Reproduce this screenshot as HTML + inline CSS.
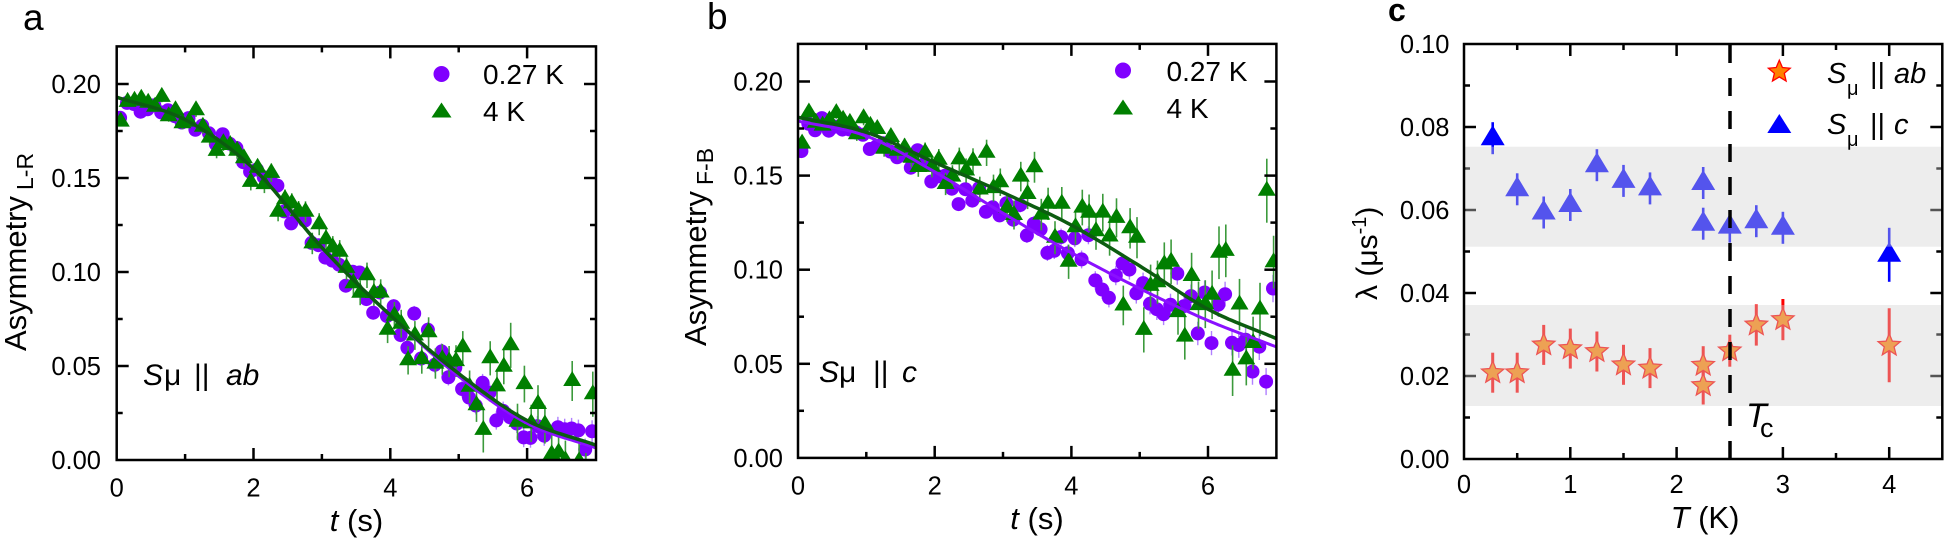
<!DOCTYPE html>
<html><head><meta charset="utf-8"><style>
html,body{margin:0;padding:0;background:#fff;}
svg{display:block;font-family:"Liberation Sans",Arial,sans-serif;}
</style></head><body>
<svg id="s" width="1944" height="539" viewBox="0 0 1944 539" xmlns="http://www.w3.org/2000/svg">
<defs>
<clipPath id="ca"><rect x="116.7" y="46.4" width="479.3" height="413.6"/></clipPath>
<clipPath id="cb"><rect x="798" y="43.9" width="478.4" height="414"/></clipPath>
</defs>
<rect width="1944" height="539" fill="#fff"/>
<g id="da" clip-path="url(#ca)"></g>
<g id="db" clip-path="url(#cb)"></g>
<g id="tk" stroke="#000" stroke-width="2.5"></g>
<g id="dc"></g>
<!-- bands panel c -->
<rect x="1465.3" y="146.7" width="476" height="100" fill="rgb(210,210,210)" fill-opacity="0.4"/>
<rect x="1465.3" y="305" width="476" height="101" fill="rgb(210,210,210)" fill-opacity="0.4"/>
<line x1="1730" y1="45" x2="1730" y2="459" stroke="#000" stroke-width="3.5" stroke-dasharray="18 15"/>
<!-- frames -->
<rect x="116.7" y="46.4" width="479.3" height="413.6" fill="none" stroke="#000" stroke-width="2.5"/>
<rect x="798" y="43.9" width="478.4" height="414" fill="none" stroke="#000" stroke-width="2.5"/>
<rect x="1464" y="44" width="478.3" height="415" fill="none" stroke="#000" stroke-width="2.5"/>

<!-- panel labels -->
<text x="23" y="30" font-size="37">a</text>
<text x="707" y="29" font-size="37">b</text>
<text x="1388" y="21" font-size="32" font-weight="bold">c</text>

<!-- tick labels -->
<g font-size="25.5" text-anchor="end">
<text x="101" y="93">0.20</text><text x="101" y="187">0.15</text><text x="101" y="281">0.10</text><text x="101" y="375">0.05</text><text x="101" y="469">0.00</text>
<text x="783" y="90.5">0.20</text><text x="783" y="184.6">0.15</text><text x="783" y="278.7">0.10</text><text x="783" y="372.8">0.05</text><text x="783" y="466.9">0.00</text>
<text x="1449.5" y="53">0.10</text><text x="1449.5" y="136">0.08</text><text x="1449.5" y="219">0.06</text><text x="1449.5" y="302">0.04</text><text x="1449.5" y="385">0.02</text><text x="1449.5" y="468">0.00</text>
</g>
<g font-size="25.5" text-anchor="middle">
<text x="116.7" y="496.5">0</text><text x="253.5" y="496.5">2</text><text x="390.3" y="496.5">4</text><text x="527.1" y="496.5">6</text>
<text x="798" y="494.5">0</text><text x="934.7" y="494.5">2</text><text x="1071.4" y="494.5">4</text><text x="1208" y="494.5">6</text>
<text x="1464" y="493">0</text><text x="1570.3" y="493">1</text><text x="1676.6" y="493">2</text><text x="1782.9" y="493">3</text><text x="1889.2" y="493">4</text>
</g>

<!-- axis titles -->
<text x="356.5" y="531" font-size="31" text-anchor="middle"><tspan font-style="italic">t</tspan> (s)</text>
<text x="1037" y="529" font-size="31" text-anchor="middle"><tspan font-style="italic">t</tspan> (s)</text>
<text x="1705" y="528" font-size="31" text-anchor="middle"><tspan font-style="italic">T</tspan> (K)</text>

<text transform="translate(26,351) rotate(-90)" font-size="31">Asymmetry<tspan font-size="23" dy="7" dx="6">L-R</tspan></text>
<text transform="translate(706,346) rotate(-90)" font-size="31">Asymmetry<tspan font-size="23" dy="7" dx="6">F-B</tspan></text>
<text transform="translate(1377,300) rotate(-90)" font-size="30">λ (μs<tspan font-size="20" dy="-11">-1</tspan><tspan dy="11">)</tspan></text>

<!-- in-plot annotations -->
<text y="385" font-size="30"><tspan x="143" font-style="italic">S</tspan><tspan x="164">μ</tspan><tspan x="194">||</tspan><tspan x="226" font-style="italic">ab</tspan></text>
<text y="382" font-size="30"><tspan x="819" font-style="italic">S</tspan><tspan x="839">μ</tspan><tspan x="873">||</tspan><tspan x="902" font-style="italic">c</tspan></text>
<text x="1746" y="427" font-size="34" font-style="italic">T</text>
<text x="1760" y="437" font-size="27">c</text>

<!-- legends a -->
<circle cx="441.5" cy="74" r="8" fill="#8000ff"/>
<path d="M431.5,117.5L441.5,102.5L451.5,117.5Z" fill="#007f00"/>
<text x="483" y="84" font-size="28">0.27 K</text>
<text x="483" y="121" font-size="28">4 K</text>
<!-- legends b -->
<circle cx="1123" cy="70.5" r="8" fill="#8000ff"/>
<path d="M1113,114.5L1123,99.5L1133,114.5Z" fill="#007f00"/>
<text x="1166.5" y="81" font-size="28">0.27 K</text>
<text x="1166.5" y="118" font-size="28">4 K</text>
<!-- legend c -->
<path d="M1779.3,60.2L1782.4,67.5L1790.2,68.2L1784.3,73.3L1786.1,81.0L1779.3,76.9L1772.5,81.0L1774.4,73.3L1768.4,68.2L1776.2,67.5Z" fill="#ff8000" stroke="#ff0000" stroke-width="1.3"/>
<path d="M1767.3,133L1779.3,114L1791.3,133Z" fill="#0000ff"/>
<text y="83" font-size="29"><tspan x="1827" font-style="italic">S</tspan><tspan x="1847" font-size="20" dy="12">μ</tspan><tspan x="1870" dy="-12">||</tspan><tspan x="1894" font-style="italic">ab</tspan></text>
<text y="134" font-size="29"><tspan x="1827" font-style="italic">S</tspan><tspan x="1847" font-size="20" dy="12">μ</tspan><tspan x="1870" dy="-12">||</tspan><tspan x="1894" font-style="italic">c</tspan></text>
</svg>
<script>
(function(){
function rng(a){return function(){a|=0;a=a+0x6D2B79F5|0;var t=Math.imul(a^a>>>15,1|a);t=t+Math.imul(t^t>>>7,61|t)^t;return((t^t>>>14)>>>0)/4294967296;};}
function gn(r){var u=r();if(u<1e-6)u=1e-6;var g=Math.sqrt(-2*Math.log(u))*Math.cos(2*Math.PI*r());return Math.max(-2.2,Math.min(2.2,g));}
function cr(k,t){var n=k.length-1;if(t<=0)return k[0];if(t>=n)return k[n];var i=Math.floor(t),u=t-i;var p1=k[i],p2=k[i+1];var p0=i>0?k[i-1]:2*k[0]-k[1];var p3=i+2<=n?k[i+2]:2*k[n]-k[n-1];return 0.5*(2*p1+(-p0+p2)*u+(2*p0-5*p1+4*p2-p3)*u*u+(-p0+3*p1-3*p2+p3)*u*u*u);}
function f(n){return n.toFixed(1);}
function tri(x,y,w,up,dn){return 'M'+f(x-w/2)+','+f(y+dn)+'L'+f(x)+','+f(y-up)+'L'+f(x+w/2)+','+f(y+dn)+'Z';}
function star(x,y,R,r){var d='';for(var i=0;i<10;i++){var a=(-90+36*i)*Math.PI/180;var rr=i%2?r:R;d+=(i?'L':'M')+f(x+rr*Math.cos(a))+','+f(y+rr*Math.sin(a));}return d+'Z';}

function panel(id,P,kP,kG,sd,c,ovP,ovG){
 var rp=rng(sd[0]),rg=rng(sd[1]);var pts=[],gts=[],i,t;
 for(i=0;i<70;i++){t=0.05+0.1*i;pts.push([t,cr(kP,t)+gn(rp)*(c.sp0+c.sp1*t),c.ep0+c.ep1*t]);}
 for(i=0;i<70;i++){t=0.06+0.1*i;gts.push([t,cr(kG,t)+gn(rg)*(c.sg0+c.sg1*t),c.eg0+c.eg1*t]);}
 ovP.forEach(function(o){pts[o[0]][1]=o[1];});
 ovG.forEach(function(o){gts[o[0]][1]=o[1];if(o[2])gts[o[0]][2]=o[2];});
 var s='';
 pts.forEach(function(p){var x=P.x(p[0]);s+='<line x1="'+f(x)+'" x2="'+f(x)+'" y1="'+f(P.y(p[1]+p[2]))+'" y2="'+f(P.y(p[1]-p[2]))+'" stroke="#b080ff" stroke-width="1.4"/>';});
 pts.forEach(function(p){s+='<circle cx="'+f(P.x(p[0]))+'" cy="'+f(P.y(p[1]))+'" r="7" fill="#8000ff"/>';});
 gts.forEach(function(p){var x=P.x(p[0]);s+='<line x1="'+f(x)+'" x2="'+f(x)+'" y1="'+f(P.y(p[1]+p[2]))+'" y2="'+f(P.y(p[1]-p[2]))+'" stroke="#3c9a3c" stroke-width="1.6"/>';});
 gts.forEach(function(p){s+='<path d="'+tri(P.x(p[0]),P.y(p[1]),18,10,5)+'" fill="#007f00"/>';});
 var dp='',dg='';
 for(i=0;i<=140;i++){t=i*0.05;dp+=(i?'L':'M')+f(P.x(t))+','+f(P.y(cr(kP,t)));dg+=(i?'L':'M')+f(P.x(t))+','+f(P.y(cr(kG,t)));}
 s+='<path d="'+dp+'" fill="none" stroke="#8a10ff" stroke-width="3"/>';
 s+='<path d="'+dg+'" fill="none" stroke="#0c5c10" stroke-width="3.5"/>';
 document.getElementById(id).innerHTML=s;
}
var A={x:function(t){return 116.7+68.4*t;},y:function(v){return 460-1880*v;}};
var B={x:function(t){return 798+68.34*t;},y:function(v){return 457.9-1882*v;}};
panel('da',A,[0.193,0.181,0.155,0.113,0.077,0.0445,0.0195,0.0065],[0.193,0.181,0.155,0.113,0.077,0.046,0.021,0.008],[11,23],
 {sp0:0.0015,sp1:0.0010,ep0:0.001,ep1:0.0007,sg0:0.002,sg1:0.0018,eg0:0.002,eg1:0.0013},
 [[0,0.182],[59,0.012]],
 [[0,0.180],[11,0.186],[27,0.132],[45,0.068],[50,0.060],[53,0.016,0.012],[57,0.061,0.012],[63,0.003],[64,0.004],[69,0.035,0.012]]);
panel('db',B,[0.179,0.171,0.152,0.130,0.109,0.090,0.073,0.059],[0.181,0.173,0.157,0.141,0.1237,0.102,0.079,0.0634],[37,51],
 {sp0:0.0018,sp1:0.0011,ep0:0.001,ep1:0.0009,sg0:0.003,sg1:0.0019,eg0:0.002,eg1:0.0018},
 [[0,0.163],[52,0.079],[55,0.098],[60,0.061],[62,0.087],[64,0.060],[69,0.090]],
 [[0,0.167],[36,0.135],[38,0.135],[47,0.081],[48,0.122],[49,0.117],[50,0.068,0.012],[61,0.109,0.014],[62,0.110,0.014],[68,0.142,0.017],[69,0.104,0.014]]);

// ticks
var tk='';
function L(x1,y1,x2,y2){tk+='<line x1="'+f(x1)+'" y1="'+f(y1)+'" x2="'+f(x2)+'" y2="'+f(y2)+'"/>';}
function ticks(x0,x1,y0,y1,xs,ys){
 xs.forEach(function(a){var len=a[1]?12:6;L(a[0],y1,a[0],y1-len);L(a[0],y0,a[0],y0+len);});
 ys.forEach(function(a){var len=a[1]?12:6;L(x0,a[0],x0+len,a[0]);L(x1,a[0],x1-len,a[0]);});
}
var xa=[],ya=[],xb=[],yb=[],xc=[],yc=[],k;
for(k=1;k<=6;k++){xa.push([A.x(k),k%2==0]);xb.push([B.x(k),k%2==0]);}
for(k=1;k<=8;k++){ya.push([A.y(k*0.025),k%2==0]);yb.push([B.y(k*0.025),k%2==0]);}
var C={x:function(t){return 1464+106.3*t;},y:function(v){return 459-4150*v;}};
for(k=1;k<=8;k++){xc.push([C.x(k*0.5),k%2==0]);}
for(k=1;k<=9;k++){yc.push([C.y(k*0.01),k%2==0]);}
ticks(116.7,596,46.4,460,xa,ya);
ticks(798,1276.4,43.9,457.9,xb,yb);
ticks(1464,1942.3,44,459,xc,yc);
document.getElementById('tk').innerHTML=tk;

// panel c data
var s='';
var blue=[[0.27,0.0773,16],[0.5,0.065,16],[0.75,0.0594,16],[1.0,0.0612,16],[1.25,0.0708,16],[1.5,0.067,16],[1.75,0.0652,16],[2.25,0.0665,16],[2.25,0.0567,16],[2.5,0.056,16],[2.75,0.0573,16],[3.0,0.0557,16],[4.0,0.0492,27]];
var stars=[[0.27,0.0208,20],[0.5,0.0208,20],[0.75,0.0275,20],[1.0,0.0266,20],[1.25,0.0259,20],[1.5,0.0227,20],[1.75,0.0219,20],[2.25,0.0226,19],[2.25,0.0177,19],[2.5,0.0261,16],[2.75,0.0323,20.6],[3.0,0.0336,20.6],[4.0,0.0274,37]];
blue.forEach(function(p){var x=C.x(p[0]),y=C.y(p[1]);s+='<line x1="'+f(x)+'" x2="'+f(x)+'" y1="'+f(y-p[2])+'" y2="'+f(y+p[2])+'" stroke="#0000ff" stroke-width="2.6"/>';});
blue.forEach(function(p){var x=C.x(p[0]),y=C.y(p[1]);s+='<path d="'+tri(x,y,24,13,7)+'" fill="#0000ff"/>';});
stars.forEach(function(p){var x=C.x(p[0]),y=C.y(p[1]);s+='<line x1="'+f(x)+'" x2="'+f(x)+'" y1="'+f(y-p[2])+'" y2="'+f(y+p[2])+'" stroke="#ff0000" stroke-width="3"/>';});
stars.forEach(function(p){var x=C.x(p[0]),y=C.y(p[1]);s+='<path d="'+star(x,y,11.7,5.2)+'" fill="#ff8000" stroke="#ff0000" stroke-width="1.3"/>';});
document.getElementById('dc').innerHTML=s;
})();
</script>
</body></html>
